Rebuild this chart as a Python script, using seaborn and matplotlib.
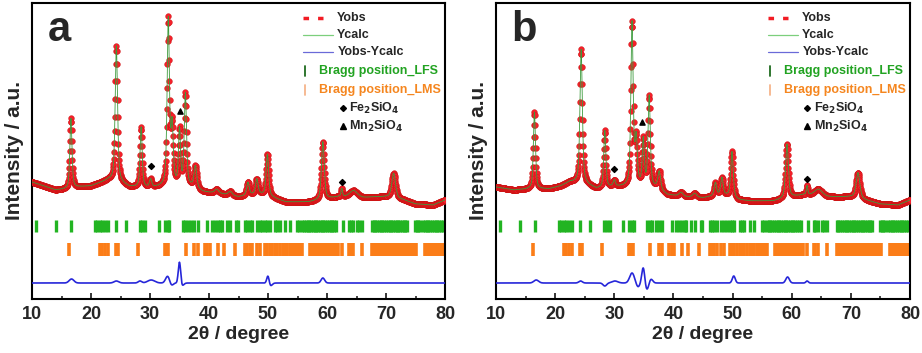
import numpy as np
import matplotlib
matplotlib.use("Agg")
import matplotlib.pyplot as plt
import seaborn as sns

# ---------------- data ----------------
# peak tables (2theta, height above background, fwhm) in plot units
peaks_a_pos = [16.6, 24.3, 28.5, 30.1, 33.1, 33.75, 35.0, 36.0, 37.7, 41.3, 43.6, 46.6, 48.1, 49.9, 59.3, 62.5, 64.5, 71.3]
peaks_a_height = [70, 136, 60, 8, 166, 58, 55, 92, 22, 4, 4, 13, 15, 42, 58, 8, 7, 25]
peaks_a_fwhm = [0.42, 0.48, 0.42, 0.45, 0.46, 0.45, 0.4, 0.45, 0.55, 0.8, 0.8, 0.5, 0.5, 0.5, 0.55, 0.3, 1.6, 0.75]

peaks_b_pos = [16.5, 24.4, 28.4, 30.0, 33.0, 33.7, 34.9, 35.9, 37.6, 41.3, 43.6, 47.1, 48.2, 49.9, 59.2, 62.6, 64.5, 71.2]
peaks_b_height = [77, 134, 57, 6, 163, 45, 45, 90, 18, 4, 4, 13, 18, 46, 54, 9, 7, 26]
peaks_b_fwhm = [0.42, 0.48, 0.42, 0.45, 0.46, 0.45, 0.4, 0.45, 0.55, 0.8, 0.8, 0.5, 0.5, 0.5, 0.55, 0.3, 1.6, 0.75]

# background levels
bg_a_pos = [10, 12, 14, 16, 18, 20, 21.5, 23, 25, 26.5, 30, 32, 34.5, 37, 39, 42, 45, 47, 48.5, 51, 53, 57, 60, 62, 66, 68, 70, 73, 75, 78, 80]
bg_a_level = [117, 113, 109, 110, 112, 113, 116, 119, 116, 112, 111, 112, 113, 112, 107, 105, 102, 104, 105, 101, 97, 97, 100, 102, 101, 102, 102, 99, 95, 94, 99]
bg_b_pos = [10, 13, 16, 19, 21, 22.5, 25, 27, 30, 32, 35, 37, 39, 42, 45, 47, 49, 51, 53, 57, 60, 62, 66, 68, 70, 73, 75, 78, 80]
bg_b_level = [112, 109, 110, 110, 113, 117, 115, 110, 112, 112, 113, 111, 104, 102, 101, 103, 103, 99, 98, 98, 102, 104, 102, 102, 102, 98, 95, 94, 99]

# difference curve features (2theta, amplitude, width)
diff_a_pos = [16.7, 24.3, 28.3, 30.2, 33.0, 33.6, 35.0, 35.4, 50.0, 50.4, 59.3]
diff_a_amp = [4, 2, 2, 3, 7, -3, 22, -3, 8, -3, 5]
diff_a_width = [0.4, 0.4, 0.3, 0.6, 0.35, 0.3, 0.2, 0.3, 0.2, 0.3, 0.3]
diff_b_pos = [16.8, 24.3, 28.4, 30.1, 33.0, 34.0, 34.9, 35.5, 36.2, 50.2, 59.3, 62.6]
diff_b_amp = [3, 2, -3, 2, 10, -4, 16, -7, 4, 7, 6, 2]
diff_b_width = [0.4, 0.3, 0.3, 0.5, 0.4, 0.3, 0.25, 0.3, 0.3, 0.25, 0.3, 0.2]
diff_base = 16

# Bragg reflections
bragg_lfs = [10.7, 14.1, 16.6, 20.7, 21.0, 21.5, 21.8, 22.4, 22.8, 24.2, 25.9, 28.3, 28.7, 29.2, 31.5,
             32.5, 33.0, 33.3, 35.6, 36.0, 36.4, 37.0, 37.5, 38.1, 39.7, 40.5, 41.0, 41.5, 41.9, 42.2,
             43.0, 43.6, 44.6, 44.9, 46.1, 46.5, 46.9, 47.3, 48.1, 48.6, 49.0, 49.5, 49.9, 50.3, 51.2,
             51.6, 52.0, 52.9, 53.7, 54.9, 55.3, 55.8, 56.1, 56.4, 56.7, 57.0, 57.3, 57.6, 57.9, 58.2,
             58.5, 58.8, 59.1, 59.4, 59.7, 60.0, 60.3, 60.6, 60.9, 61.2, 61.5, 62.7, 63.7, 64.0, 64.4,
             65.1, 65.5, 65.9, 67.6, 67.9, 68.2, 68.5, 68.8, 69.1, 69.4, 69.7, 70.0, 70.3, 70.6, 70.9,
             71.2, 71.5, 71.8, 72.1, 72.4, 72.7, 73.0, 73.3, 73.6, 74.9, 75.2, 75.5, 75.8, 76.3, 76.6,
             76.9, 77.2, 77.5, 77.8, 78.1, 78.4, 78.7, 79.0, 79.3, 79.6]
bragg_lms = [16.3, 21.5, 21.9, 22.4, 22.8, 24.2, 24.6, 28.0, 32.5, 32.8, 33.1, 36.1, 37.5, 38.1, 39.3,
             39.7, 40.1, 41.5, 42.5, 44.4, 46.1, 46.5, 46.9, 47.3, 48.1, 48.6, 49.5, 49.9, 50.3, 50.7,
             51.2, 51.6, 52.0, 52.5, 52.9, 53.3, 53.7, 54.1, 54.4, 54.8, 55.1, 55.5, 55.8, 57.1, 57.4,
             57.7, 58.0, 58.3, 58.6, 58.9, 59.2, 59.5, 59.8, 60.1, 60.4, 60.7, 61.0, 61.3, 61.6, 61.9,
             62.5, 63.7, 64.0, 64.4, 65.9, 67.6, 67.9, 68.2, 68.5, 68.8, 69.1, 69.4, 69.7, 70.0, 70.3,
             70.6, 70.9, 71.2, 71.5, 71.8, 72.1, 72.4, 72.7, 73.0, 73.3, 73.6, 73.9, 74.2, 74.5, 74.8,
             75.1, 76.6, 76.9, 77.2, 77.5, 77.8, 78.1, 78.4, 78.7, 79.0, 79.3, 79.6]
lfs_row = (67, 79)
lms_row = (43, 56)

# impurity markers (2theta, height)
fe_a = ([30.2, 62.5], [129, 113])
mn_a = ([35.1], [184])
fe_b = ([30.0, 62.6], [126, 116])
mn_b = ([34.7], [173])

xticks = [10, 20, 30, 40, 50, 60, 70, 80]

two_theta = np.arange(10, 80.001, 0.05)


def profile(x, pos, height, fwhm, eta=0.55):
    y = np.zeros_like(x)
    for c, h, w in zip(pos, height, fwhm):
        d = (x - c) / w
        y += h * (eta / (1 + 4 * d**2) + (1 - eta) * np.exp(-4 * np.log(2) * d**2))
    return y


def gauss(x, pos, amp, width):
    y = np.zeros_like(x)
    for c, a, w in zip(pos, amp, width):
        y += a * np.exp(-0.5 * ((x - c) / w) ** 2)
    return y


sns.set_style("white")
plt.rcParams['font.family'] = ['Liberation Sans', 'DejaVu Sans']
plt.rcParams['font.weight'] = 'bold'

fig = plt.figure(figsize=(9.22, 3.53), dpi=100)
ax_a = fig.add_axes([32 / 922, 54 / 353, 413 / 922, 296 / 353])
ax_b = fig.add_axes([496 / 922, 54 / 353, 414 / 922, 296 / 353])

panels = [
    (ax_a, 'a', peaks_a_pos, peaks_a_height, peaks_a_fwhm, bg_a_pos, bg_a_level,
     diff_a_pos, diff_a_amp, diff_a_width, fe_a, mn_a),
    (ax_b, 'b', peaks_b_pos, peaks_b_height, peaks_b_fwhm, bg_b_pos, bg_b_level,
     diff_b_pos, diff_b_amp, diff_b_width, fe_b, mn_b),
]

for (ax, letter, ppos, phgt, pfw, bpos, blev, dpos, damp, dwid, fe, mn) in panels:
    ycalc = np.interp(two_theta, bpos, blev) + profile(two_theta, ppos, phgt, pfw)
    ydiff = diff_base + gauss(two_theta, dpos, damp, dwid)

    sns.scatterplot(x=two_theta, y=ycalc, ax=ax, color='#f5202a', s=17,
                    edgecolor='#c81414', linewidth=0.3, zorder=3, legend=False)
    sns.lineplot(x=two_theta, y=ycalc, ax=ax, color='#3c9a3c', linewidth=0.6, zorder=4)
    sns.lineplot(x=two_theta, y=ydiff, ax=ax, color='#2626d9', linewidth=1.2, zorder=4)

    ax.vlines(bragg_lfs, lfs_row[0], lfs_row[1], color='#22b422', linewidth=2.4, zorder=2)
    ax.vlines(bragg_lms, lms_row[0], lms_row[1], color='#fb7d18', linewidth=2.6, zorder=2)

    ax.scatter(fe[0], np.array(fe[1]) + 4, marker='D', s=9, color='black', zorder=5)
    ax.scatter(mn[0], np.array(mn[1]) + 4, marker='^', s=14, color='black', zorder=5)

    ax.set_xlim(10, 80)
    ax.set_ylim(0, 296)
    ax.set_xticks(xticks)
    ax.set_xticks(np.arange(15, 80, 10), minor=True)
    ax.set_yticks([])
    ax.tick_params(axis='x', which='major', direction='in', length=4.5, width=1.3,
                   labelsize=13, pad=5, top=False, bottom=True)
    ax.tick_params(axis='x', which='minor', direction='in', length=2.3, width=1.2,
                   top=False, bottom=True)
    for lab in ax.get_xticklabels():
        lab.set_fontweight('bold')
    for sp in ax.spines.values():
        sp.set_linewidth(1.5)
        sp.set_color('black')
    ax.set_xlabel('2θ / degree', fontsize=14, fontweight='bold', labelpad=2)
    ax.set_ylabel('Intensity / a.u.', fontsize=15, fontweight='bold', labelpad=6)

    ax.text(0.038, 0.87, letter, transform=ax.transAxes, fontsize=30, fontweight='bold',
            va='baseline', ha='left')

    # legend drawn in axes coordinates
    tr = ax.transAxes
    ax.plot([0.656, 0.705], [0.949, 0.949], transform=tr, color='#f21c24', lw=2.5,
            dashes=(1.6, 2.6))
    ax.text(0.738, 0.949, 'Yobs', transform=tr, fontsize=9, fontweight='bold', va='center')
    ax.plot([0.656, 0.729], [0.893, 0.893], transform=tr, color='#7ccf7c', lw=0.9)
    ax.text(0.738, 0.893, 'Ycalc', transform=tr, fontsize=9, fontweight='bold', va='center')
    ax.plot([0.656, 0.729], [0.833, 0.833], transform=tr, color='#6a6ad8', lw=0.9)
    ax.text(0.740, 0.833, 'Yobs-Ycalc', transform=tr, fontsize=9, fontweight='bold', va='center')
    ax.plot([0.662, 0.662], [0.752, 0.788], transform=tr, color='#1f6b1f', lw=1.3)
    ax.text(0.695, 0.770, 'Bragg position_LFS', transform=tr, fontsize=9, fontweight='bold',
            va='center', color='#22a322')
    ax.plot([0.662, 0.662], [0.688, 0.724], transform=tr, color='#f6b48a', lw=1.3)
    ax.text(0.695, 0.706, 'Bragg position_LMS', transform=tr, fontsize=9, fontweight='bold',
            va='center', color='#f5861f')
    ax.plot([0.752], [0.645], transform=tr, marker='D', ms=3, color='black')
    ax.text(0.768, 0.645, 'Fe$_\\mathbf{2}$SiO$_\\mathbf{4}$', transform=tr, fontsize=9,
            fontweight='bold', va='center')
    ax.plot([0.752], [0.586], transform=tr, marker='^', ms=4, color='black')
    ax.text(0.768, 0.584, 'Mn$_\\mathbf{2}$SiO$_\\mathbf{4}$', transform=tr, fontsize=9,
            fontweight='bold', va='center')

fig.savefig('out.png', dpi=100)
